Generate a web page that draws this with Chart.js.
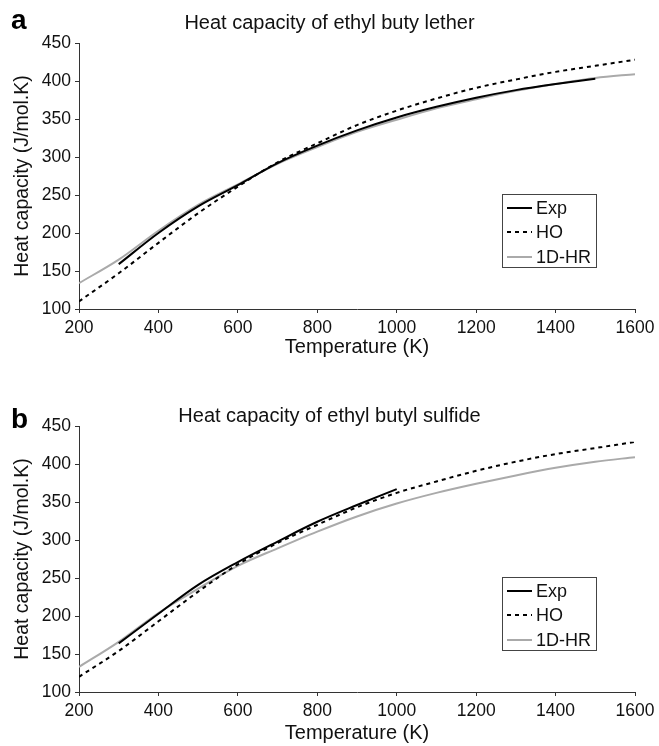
<!DOCTYPE html>
<html>
<head>
<meta charset="utf-8">
<script src="https://cdn.jsdelivr.net/npm/chart.js@4.4.1/dist/chart.umd.min.js"></script>
<style>
  body { margin: 0; background: #fff; font-family: "Liberation Sans", Arial, sans-serif; }
  .panel { position: absolute; left: 0; width: 659px; height: 373px; }
  .tag { position: absolute; left: 11px; font-weight: bold; font-size: 28px; line-height: 28px; color: #000; }
</style>
</head>
<body>
<div class="panel" style="top:0"><canvas id="chartA" width="659" height="373"></canvas></div>
<div class="panel" style="top:373px"><canvas id="chartB" width="659" height="373"></canvas></div>
<div class="tag" style="top:6px">a</div>
<div class="tag" style="top:405px">b</div>
<script>
/* ---- data ---- */
const temps = [200, 300, 400, 500, 600, 700, 800, 900, 1000, 1100, 1200, 1300, 1400, 1500, 1600];
const xTicks = [200, 400, 600, 800, 1000, 1200, 1400, 1600];
const yTicks = [100, 150, 200, 250, 300, 350, 400, 450];

// (a) ethyl butyl ether
const expTempsA = [300, 400, 500, 600, 700, 800, 900, 1000, 1100, 1200, 1300, 1400, 1500];
const expA = [159, 200, 235, 263, 292, 315, 335, 352, 366, 378, 388, 396, 403];
const hoA  = [110, 147, 187, 226, 261, 293, 318, 342, 361, 377, 391, 402, 412, 420, 428];
const hrA  = [134, 165, 203, 237, 264, 291, 313, 333, 349, 364, 376, 387, 396, 404, 409];

// (b) ethyl butyl sulfide
const expTempsB = [300, 400, 500, 600, 700, 800, 900, 1000];
const expB = [164, 203, 241, 271, 298, 324, 346, 367];
const hoB  = [120, 154, 193, 232, 268, 296, 320, 343, 362, 377, 391, 403, 413, 421, 429];
const hrB  = [133, 166, 204, 236, 266, 289, 311, 331, 348, 362, 374, 385, 395, 403, 409];

const FONT = "'Liberation Sans', Arial, sans-serif";

function pts(xs, ys) {
    return xs.map((x, i) => ({ x: x, y: ys[i] }));
}

/* -------- legend box drawn inside the plot -------- */
const boxLegend = {
    id: 'boxLegend',
    afterDatasetsDraw(chart, args, opts) {
        const ctx = chart.ctx;
        const left = opts.left, top = chart.chartArea.top + opts.top;
        ctx.save();
        ctx.strokeStyle = '#444';
        ctx.lineWidth = 1;
        ctx.strokeRect(left + 0.5, top + 0.5, opts.width, opts.height);
        ctx.font = '18px ' + FONT;
        ctx.fillStyle = '#111';
        ctx.textBaseline = 'middle';
        chart.data.datasets.forEach((ds, i) => {
            const y = top + opts.rows[i];
            ctx.beginPath();
            ctx.strokeStyle = ds.borderColor;
            ctx.lineWidth = ds.borderWidth;
            ctx.setLineDash(ds.borderDash || []);
            ctx.moveTo(left + 5, y);
            ctx.lineTo(left + 30, y);
            ctx.stroke();
            ctx.setLineDash([]);
            ctx.fillText(ds.label, left + 34, y + 1);
        });
        ctx.restore();
    }
};

function makePanel(id, title, expX, expY, hoY, hrY, lay) {
    const ctx = document.getElementById(id).getContext('2d');
    return new Chart(ctx, {
        type: 'line',
        data: {
            datasets: [{
                label: 'Exp',
                data: pts(expX, expY),
                borderColor: '#000',
                borderWidth: 2
            }, {
                label: 'HO',
                data: pts(temps, hoY),
                borderColor: '#000',
                borderWidth: 2,
                borderDash: [4, 4]
            }, {
                label: '1D-HR',
                data: pts(temps, hrY),
                borderColor: '#aaa',
                borderWidth: 2
            }]
        },
        options: {
            responsive: false,
            animation: false,
            layout: { padding: 0 },
            elements: {
                point: { radius: 0 },
                line: { cubicInterpolationMode: 'monotone', fill: false }
            },
            scales: {
                x: {
                    type: 'linear',
                    min: 200, max: 1600,
                    afterBuildTicks: s => { s.ticks = xTicks.map(v => ({ value: v })); },
                    afterFit: s => { s.height = lay.xHeight; s.paddingRight = 24; },
                    grid: { drawOnChartArea: false, tickLength: 4, color: '#333' },
                    border: { color: '#333', width: 1 },
                    ticks: {
                        color: '#111', padding: 5, maxRotation: 0,
                        font: { family: FONT, size: 17.5 },
                        callback: v => String(v)
                    },
                    title: {
                        display: true, text: 'Temperature (K)', color: '#111',
                        font: { family: FONT, size: 20 },
                        padding: { top: 0, bottom: lay.xTitlePad }
                    }
                },
                y: {
                    min: 100, max: 450,
                    afterBuildTicks: s => { s.ticks = yTicks.map(v => ({ value: v })); },
                    afterFit: s => { s.width = 79; },
                    grid: { drawOnChartArea: false, tickLength: 4, color: '#333' },
                    border: { color: '#333', width: 1 },
                    ticks: {
                        color: '#111', padding: 4,
                        font: { family: FONT, size: 17.5 },
                        callback: v => String(v)
                    },
                    title: {
                        display: true, text: 'Heat capacity (J/mol.K)', color: '#111',
                        font: { family: FONT, size: 19.5 },
                        padding: { top: 11, bottom: 0 }
                    }
                }
            },
            plugins: {
                legend: { display: false },
                tooltip: { enabled: false },
                title: {
                    display: true, text: title, color: '#111',
                    font: { family: FONT, size: 20, weight: 'normal', lineHeight: 1 },
                    padding: { top: lay.titleTop, bottom: lay.titleBottom }
                },
                boxLegend: { left: 502, top: 151, width: 94, height: 73, rows: [14, 38, 63] }
            }
        },
        plugins: [boxLegend]
    });
}

makePanel('chartA', 'Heat capacity of ethyl buty lether', expTempsA, expA, hoA, hrA,
    { titleTop: 13, titleBottom: 10, xHeight: 64, xTitlePad: 14 });
makePanel('chartB', 'Heat capacity of ethyl butyl sulfide', expTempsB, expB, hoB, hrB,
    { titleTop: 33, titleBottom: 0, xHeight: 54, xTitlePad: 1 });
</script>
</body>
</html>
